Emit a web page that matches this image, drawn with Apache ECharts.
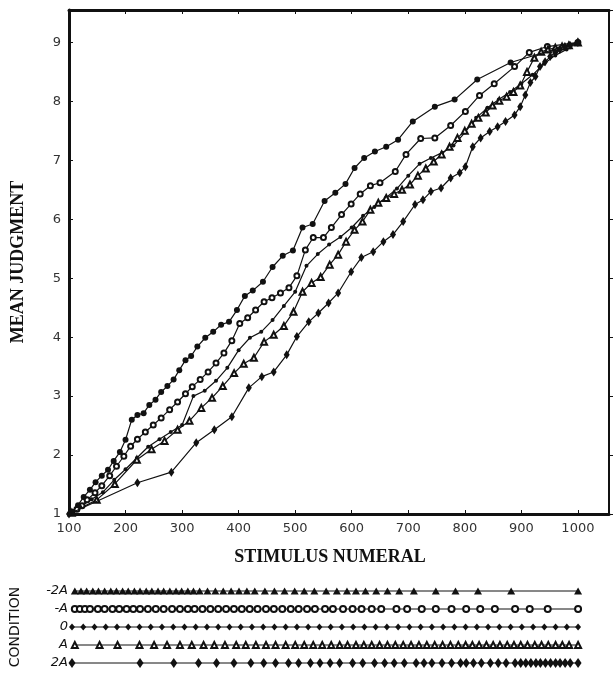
<!DOCTYPE html>
<html>
<head>
<meta charset="utf-8">
<script src="https://cdn.jsdelivr.net/npm/echarts@6/dist/echarts.min.js"></script>
<style>
  html, body { margin: 0; padding: 0; background: #fff; }
  #chart { width: 615px; height: 679px; }
</style>
</head>
<body>
<div id="chart"></div>
<script>
// condition names, top to bottom
const conditions = ['-2A', '-A', '0', 'A', '2A'];

// stimulus numerals presented in each condition
const stimNeg2A = [105, 116, 126, 137, 147, 158, 169, 179, 190, 200, 211, 221, 232, 242, 253, 263, 274, 285, 295, 306,
  316, 327, 341, 355, 369, 383, 397, 411, 425, 443, 460, 478, 496, 513, 531, 552, 571, 589, 605, 622,
  641, 661, 682, 708, 747, 782, 822, 881, 1000];
const stimNegA = [105, 114, 123, 132, 146, 158, 172, 184, 197, 209, 221, 235, 249, 263, 278, 292, 306, 318, 332, 346,
  360, 374, 388, 402, 416, 430, 445, 459, 474, 489, 503, 518, 532, 550, 564, 582, 599, 615, 633, 650,
  677, 696, 722, 747, 775, 801, 826, 852, 888, 914, 946, 1000];
const stimZero = [100, 120, 140, 160, 180, 200, 220, 240, 260, 280, 300, 320, 340, 360, 380, 400, 420, 440, 460, 480,
  500, 520, 540, 560, 580, 600, 620, 640, 660, 680, 700, 720, 740, 760, 780, 800, 820, 840, 860, 880,
  900, 920, 940, 960, 980, 1000];
const stimPosA = [105, 149, 181, 220, 246, 269, 292, 313, 334, 353, 372, 392, 409, 427, 445, 462, 480, 497, 513, 529,
  545, 561, 576, 590, 605, 619, 633, 647, 661, 675, 689, 703, 717, 731, 745, 759, 773, 787, 800, 812,
  824, 837, 849, 861, 874, 886, 898, 910, 923, 935, 947, 960, 972, 984, 1000];
const stimPos2A = [100, 221, 281, 325, 357, 388, 418, 441, 462, 485, 503, 524, 541, 559, 576, 599, 617, 638, 656, 673,
  691, 712, 726, 740, 758, 775, 791, 801, 814, 828, 844, 858, 872, 888, 898, 907, 916, 925, 933, 942,
  951, 960, 968, 977, 986, 1000];

// mean judgment for each stimulus, same order
const judgNeg2A = [1.03, 1.15, 1.29, 1.41, 1.54, 1.65, 1.75, 1.90, 2.05, 2.26, 2.60, 2.68, 2.71, 2.85, 2.94, 3.07, 3.17, 3.28, 3.44, 3.61,
  3.68, 3.84, 3.99, 4.09, 4.21, 4.26, 4.46, 4.70, 4.79, 4.94, 5.19, 5.38, 5.47, 5.86, 5.92, 6.31, 6.45, 6.60, 6.87, 7.04,
  7.15, 7.23, 7.35, 7.66, 7.91, 8.03, 8.37, 8.66, 9.00];
const judgNegA = [1.03, 1.08, 1.14, 1.24, 1.36, 1.48, 1.65, 1.81, 1.98, 2.15, 2.27, 2.39, 2.51, 2.63, 2.77, 2.90, 3.04, 3.16, 3.28, 3.41,
  3.56, 3.73, 3.94, 4.23, 4.33, 4.46, 4.60, 4.67, 4.75, 4.84, 5.04, 5.48, 5.69, 5.69, 5.86, 6.08, 6.26, 6.43, 6.57, 6.62,
  6.81, 7.10, 7.37, 7.38, 7.59, 7.83, 8.10, 8.30, 8.59, 8.83, 8.93, 9.00];
const judgZero = [1.00, 1.12, 1.25, 1.37, 1.58, 1.76, 1.95, 2.14, 2.27, 2.39, 2.51, 3.00, 3.09, 3.26, 3.48, 3.78, 3.99, 4.09, 4.29, 4.53,
  4.77, 5.21, 5.41, 5.57, 5.70, 5.86, 6.06, 6.21, 6.36, 6.52, 6.74, 6.94, 7.04, 7.13, 7.25, 7.47, 7.72, 7.89, 8.03, 8.16,
  8.30, 8.45, 8.64, 8.78, 8.88, 9.00];
const judgPosA = [1.02, 1.24, 1.51, 1.92, 2.10, 2.24, 2.43, 2.58, 2.80, 2.97, 3.17, 3.39, 3.55, 3.65, 3.92, 4.04, 4.19, 4.43, 4.77, 4.92,
  5.02, 5.23, 5.40, 5.62, 5.82, 5.96, 6.16, 6.28, 6.36, 6.43, 6.50, 6.59, 6.74, 6.86, 6.98, 7.10, 7.23, 7.38, 7.50, 7.62,
  7.72, 7.81, 7.93, 8.01, 8.08, 8.16, 8.27, 8.50, 8.74, 8.84, 8.88, 8.91, 8.93, 8.95, 9.00];
const judgPos2A = [1.00, 1.53, 1.71, 2.21, 2.43, 2.65, 3.14, 3.33, 3.41, 3.70, 4.01, 4.26, 4.41, 4.58, 4.75, 5.11, 5.35, 5.45, 5.62, 5.74,
  5.96, 6.25, 6.33, 6.47, 6.53, 6.70, 6.79, 6.89, 7.23, 7.38, 7.49, 7.57, 7.66, 7.77, 7.91, 8.11, 8.32, 8.42, 8.59, 8.67,
  8.76, 8.83, 8.88, 8.93, 8.95, 9.00];

const xTicks = [100, 200, 300, 400, 500, 600, 700, 800, 900, 1000];

const stims = [stimNeg2A, stimNegA, stimZero, stimPosA, stimPos2A];
const judgs = [judgNeg2A, judgNegA, judgZero, judgPosA, judgPos2A];

// marker look per condition: [chart symbol, chart size, strip symbol, strip size]
const looks = [
  ['circle', 6, 'triangle', [8, 7]],
  ['emptyCircle', 5, 'emptyCircle', 6],
  ['circle', 4, 'diamond', [6, 7]],
  ['emptyTriangle', 6, 'emptyTriangle', 6],
  ['diamond', [6, 9], 'diamond', [7, 10]]
];

const ink = '#111';
const numFont = '"DejaVu Sans", sans-serif';
const titleFont = '"Liberation Serif", "DejaVu Serif", serif';

let chart = echarts.init(document.getElementById('chart'));

let series = [];
conditions.forEach((c, k) => {
  const look = looks[k];
  series.push({
    name: c,
    type: 'line',
    xAxisIndex: 0,
    yAxisIndex: 0,
    data: stims[k].map((s, i) => [s, judgs[k][i]]),
    symbol: look[0],
    symbolSize: look[1],
    showAllSymbol: true,
    lineStyle: {color: ink, width: 1.2},
    itemStyle: {color: ink, borderWidth: 1},
    z: k === 0 || k === 4 ? 4 : 3,
    animation: false
  });
  // condition strip under the chart
  series.push({
    name: c + ' strip',
    type: 'line',
    xAxisIndex: 2,
    yAxisIndex: 2,
    data: stims[k].map((s) => [s, c]),
    symbol: look[2],
    symbolSize: look[3],
    showAllSymbol: true,
    lineStyle: {color: ink, width: 1},
    itemStyle: {color: ink, borderWidth: 1},
    animation: false
  });
});

const tickLabel = (v) => (xTicks.indexOf(v) >= 0 ? String(v) : '');

chart.setOption({
  animation: false,
  grid: [
    {left: 69, right: 6, top: 10, height: 504},
    {left: 69, right: 6, top: 582, height: 90}
  ],
  xAxis: [
    {
      type: 'value', gridIndex: 0, min: 100, max: 1055, interval: 100, position: 'bottom',
      axisLine: {onZero: false, lineStyle: {color: ink, width: 3}},
      axisTick: {inside: true, length: 4, lineStyle: {color: ink}},
      axisLabel: {formatter: tickLabel, color: '#333', fontFamily: numFont, fontSize: 13, margin: 8},
      splitLine: {show: false},
      name: 'STIMULUS NUMERAL', nameLocation: 'middle', nameGap: 34,
      nameTextStyle: {fontFamily: titleFont, fontWeight: 'bold', fontSize: 18, color: ink, padding: [0, 18, 0, 0]}
    },
    {
      type: 'value', gridIndex: 0, min: 100, max: 1055, interval: 100, position: 'top',
      axisLine: {onZero: false, lineStyle: {color: ink, width: 3}},
      axisTick: {inside: true, length: 4, lineStyle: {color: ink}},
      axisLabel: {show: false},
      splitLine: {show: false}
    },
    {
      type: 'value', gridIndex: 1, min: 100, max: 1055, show: false
    }
  ],
  yAxis: [
    {
      type: 'value', gridIndex: 0, min: 1, max: 9.55, interval: 1, position: 'left',
      axisLine: {onZero: false, lineStyle: {color: ink, width: 3}},
      axisTick: {inside: true, length: 4, lineStyle: {color: ink}},
      axisLabel: {formatter: (v) => (Number.isInteger(v) ? String(v) : ''), color: '#333', fontFamily: numFont, fontSize: 13, margin: 8},
      splitLine: {show: false},
      name: 'MEAN JUDGMENT', nameLocation: 'middle', nameGap: 42, nameRotate: 90,
      nameTextStyle: {fontFamily: titleFont, fontWeight: 'bold', fontSize: 18, color: ink}
    },
    {
      type: 'value', gridIndex: 0, min: 1, max: 9.55, interval: 1, position: 'right',
      axisLine: {onZero: false, lineStyle: {color: ink, width: 2}},
      axisTick: {inside: false, length: 4, lineStyle: {color: ink}},
      axisLabel: {show: false},
      splitLine: {show: false}
    },
    {
      type: 'category', gridIndex: 1, data: conditions, inverse: true,
      axisLine: {show: false},
      axisTick: {show: false},
      axisLabel: {color: ink, fontFamily: numFont, fontSize: 13, margin: 4, fontStyle: 'italic'},
      name: 'CONDITION', nameLocation: 'middle', nameGap: 50, nameRotate: 90,
      nameTextStyle: {fontFamily: numFont, fontSize: 14, color: ink}
    }
  ],
  series: series
});
</script>
</body>
</html>
